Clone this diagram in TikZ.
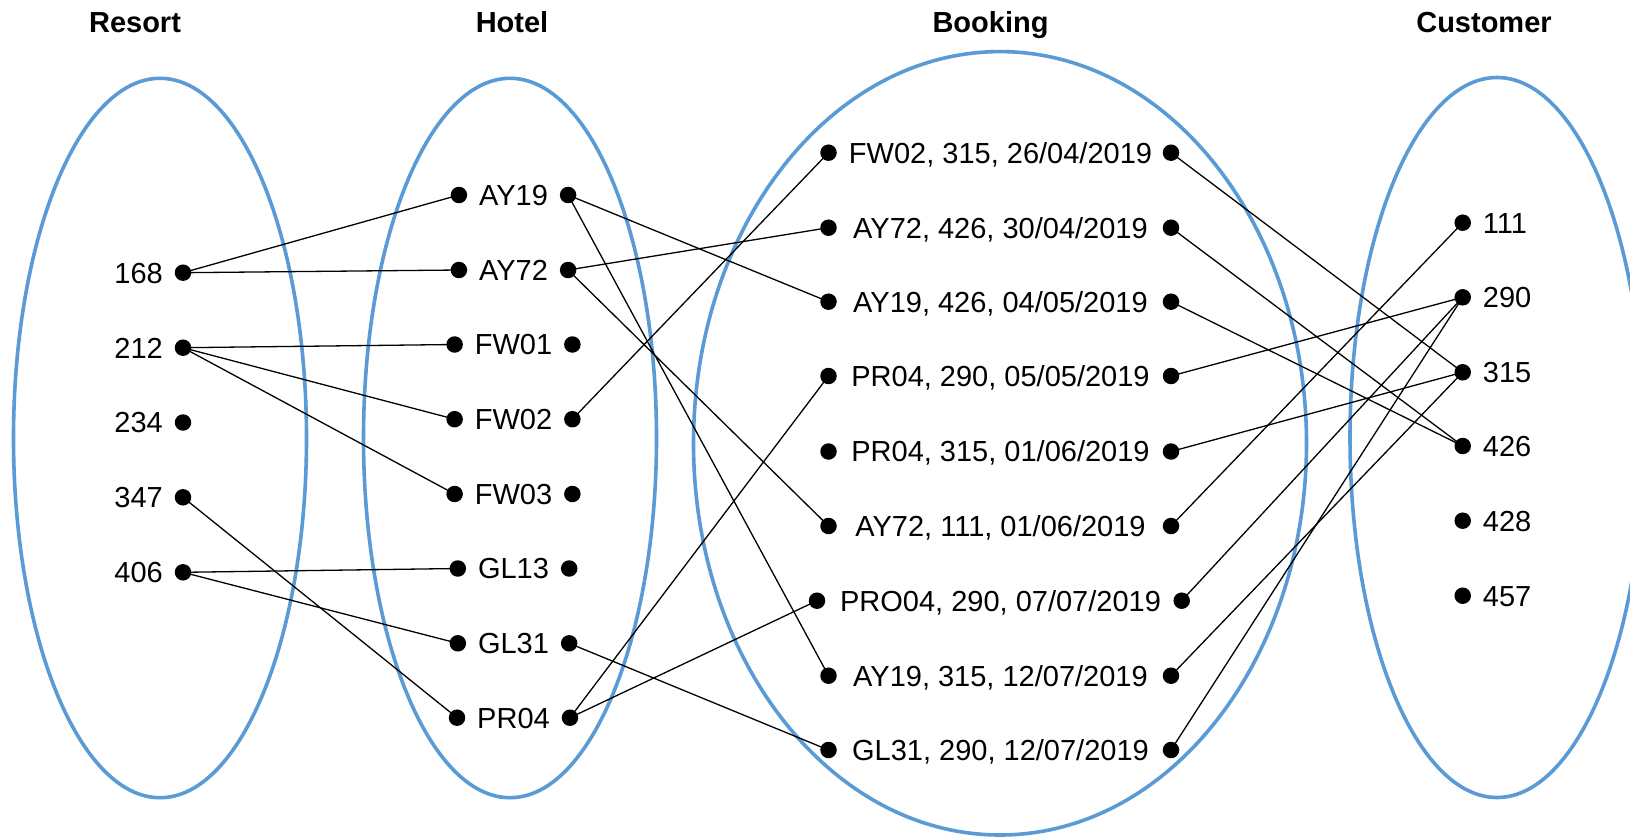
\documentclass[tikz,border=0pt]{standalone}
\usepackage{fontspec}
\setmainfont{Liberation Sans}
\definecolor{setblue}{RGB}{91,155,213}
\begin{document}
\begin{tikzpicture}[x=1pt,y=-1pt,
  lbl/.style={font=\fontsize{29}{29}\selectfont, inner sep=0pt, text height=20.8pt, text depth=0pt},
  hdr/.style={font=\fontsize{29}{29}\selectfont\bfseries, inner sep=0pt, text height=20.8pt, text depth=0pt},
  dot/.style={circle, fill=black, inner sep=0pt, minimum size=16.5pt},
  setring/.style={draw=setblue, line width=3.6pt},
  link/.style={line width=1.3pt}]
\clip (0,0) rectangle (1630,837);
\fill[white] (0,0) rectangle (1630,837);

% headers
\node[hdr] (hR) at (135,22) {Resort};
\node[hdr] (hH) at (512,22) {Hotel};
\node[hdr] (hB) at (990.5,22) {Booking};
\node[hdr] (hC) at (1484,22) {Customer};

% sets
\draw[setring] (160,438) ellipse [x radius=146.5pt, y radius=359.7pt];
\draw[setring] (510,438) ellipse [x radius=146.5pt, y radius=359.7pt];
\draw[setring] (1000,443.3) ellipse [x radius=306.5pt, y radius=391.7pt];
\draw[setring] (1497,437.5) ellipse [x radius=147pt, y radius=360pt];

% Resort
\node[dot] (r168) at (183,272.7) {};
\node[dot] (r212) at (183,347.7) {};
\node[dot] (r234) at (183,422.5) {};
\node[dot] (r347) at (183,497.3) {};
\node[dot] (r406) at (183,572.3) {};
\node[lbl, anchor=east] (r168t) at (163,272.7) {168};
\node[lbl, anchor=east] (r212t) at (163,347.7) {212};
\node[lbl, anchor=east] (r234t) at (163,422.5) {234};
\node[lbl, anchor=east] (r347t) at (163,497.3) {347};
\node[lbl, anchor=east] (r406t) at (163,572.3) {406};

% Hotel
\node[lbl] (hAY19) at (513.5,195) {AY19};
\node[lbl] (hAY72) at (513.5,270) {AY72};
\node[lbl] (hFW01) at (513.5,344.5) {FW01};
\node[lbl] (hFW02) at (513.5,419.2) {FW02};
\node[lbl] (hFW03) at (513.5,494) {FW03};
\node[lbl] (hGL13) at (513.5,568.5) {GL13};
\node[lbl] (hGL31) at (513.5,643.3) {GL31};
\node[lbl] (hPR04) at (513.5,717.7) {PR04};
\foreach \n in {AY19,AY72,FW01,FW02,FW03,GL13,GL31,PR04}{
  \node[dot] (h\n l) at ([xshift=-20pt]h\n.west) {};
  \node[dot] (h\n r) at ([xshift=20pt]h\n.east) {};
}

% Booking
\node[lbl] (b1) at (1000.5,152.7) {FW02, 315, 26/04/2019};
\node[lbl] (b2) at (1000.5,227.7) {AY72, 426, 30/04/2019};
\node[lbl] (b3) at (1000.5,301.7) {AY19, 426, 04/05/2019};
\node[lbl] (b4) at (1000.5,376) {PR04, 290, 05/05/2019};
\node[lbl] (b5) at (1000.5,451.5) {PR04, 315, 01/06/2019};
\node[lbl] (b6) at (1000.5,526) {AY72, 111, 01/06/2019};
\node[lbl] (b7) at (1000.5,600.7) {PRO04, 290, 07/07/2019};
\node[lbl] (b8) at (1000.5,675.7) {AY19, 315, 12/07/2019};
\node[lbl] (b9) at (1000.5,750) {GL31, 290, 12/07/2019};
\foreach \n in {1,2,3,4,5,6,8,9}{
  \node[dot] (b\n l) at (828.5,0 |- b\n.center) {};
  \node[dot] (b\n r) at (1171,0 |- b\n.center) {};
}
\node[dot] (b7l) at (817,0 |- b7.center) {};
\node[dot] (b7r) at (1181.7,0 |- b7.center) {};

% Customer
\node[dot] (c111) at (1462.7,222.7) {};
\node[dot] (c290) at (1462.7,297.3) {};
\node[dot] (c315) at (1462.7,372.3) {};
\node[dot] (c426) at (1462.7,446) {};
\node[dot] (c428) at (1462.7,520.7) {};
\node[dot] (c457) at (1462.7,595.7) {};
\node[lbl, anchor=west] (c111t) at (1482.7,222.7) {111};
\node[lbl, anchor=west] (c290t) at (1482.7,297.3) {290};
\node[lbl, anchor=west] (c315t) at (1482.7,372.3) {315};
\node[lbl, anchor=west] (c426t) at (1482.7,446) {426};
\node[lbl, anchor=west] (c428t) at (1482.7,520.7) {428};
\node[lbl, anchor=west] (c457t) at (1482.7,595.7) {457};

% Resort -> Hotel
\draw[link] (r168.center) -- (hAY19l.center);
\draw[link] (r168.center) -- (hAY72l.center);
\draw[link] (r212.center) -- (hFW01l.center);
\draw[link] (r212.center) -- (hFW02l.center);
\draw[link] (r212.center) -- (hFW03l.center);
\draw[link] (r347.center) -- (hPR04l.center);
\draw[link] (r406.center) -- (hGL13l.center);
\draw[link] (r406.center) -- (hGL31l.center);

% Hotel -> Booking
\draw[link] (hAY19r.center) -- (b3l.center);
\draw[link] (hAY19r.center) -- (b8l.center);
\draw[link] (hAY72r.center) -- (b2l.center);
\draw[link] (hAY72r.center) -- (b6l.center);
\draw[link] (hFW02r.center) -- (b1l.center);
\draw[link] (hGL31r.center) -- (b9l.center);
\draw[link] (hPR04r.center) -- (b4l.center);
\draw[link] (hPR04r.center) -- (b7l.center);

% Booking -> Customer
\draw[link] (b1r.center) -- (c315.center);
\draw[link] (b2r.center) -- (c426.center);
\draw[link] (b3r.center) -- (c426.center);
\draw[link] (b4r.center) -- (c290.center);
\draw[link] (b5r.center) -- (c315.center);
\draw[link] (b6r.center) -- (c111.center);
\draw[link] (b7r.center) -- (c290.center);
\draw[link] (b8r.center) -- (c315.center);
\draw[link] (b9r.center) -- (c290.center);
\end{tikzpicture}
\end{document}
